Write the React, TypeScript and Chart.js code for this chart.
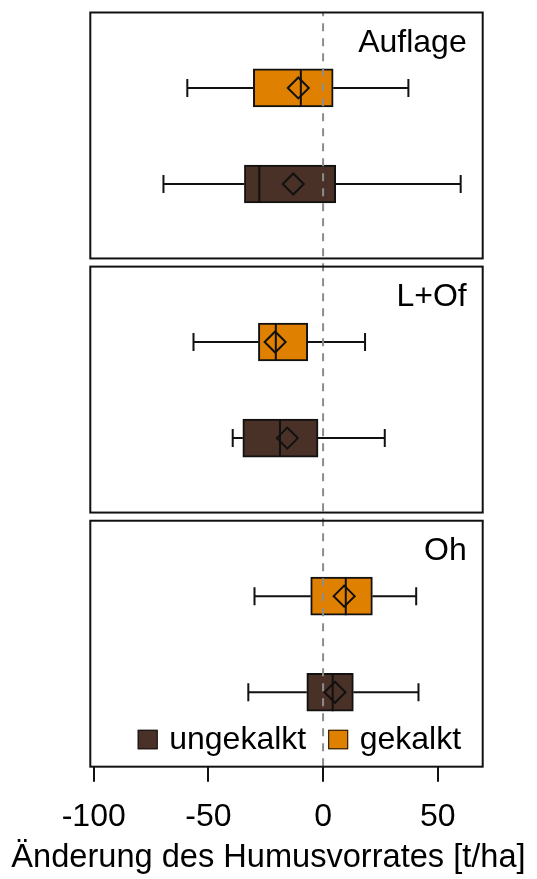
import React, { useEffect, useRef } from 'react';
import { Chart, registerables } from 'chart.js';

Chart.register(...registerables);

// ---------- data ----------
const PANELS = ['Auflage', 'L+Of', 'Oh'];
const GROUPS = ['ungekalkt', 'gekalkt'];
const X_TICKS = [-100, -50, 0, 50];
const X_TITLE = 'Änderung des Humusvorrates [t/ha]';

const UNGEKALKT_MIN = [-69.6, -39.4, -32.6];
const UNGEKALKT_Q1 = [-34.3, -35.0, -7.1];
const UNGEKALKT_MEDIAN = [-27.8, -18.8, 4.2];
const UNGEKALKT_Q3 = [5.5, -2.2, 13.2];
const UNGEKALKT_MAX = [60.0, 26.9, 41.6];
const UNGEKALKT_MEAN = [-13.0, -15.6, 5.2];

const GEKALKT_MIN = [-59.2, -56.5, -29.9];
const GEKALKT_Q1 = [-30.4, -28.2, -5.4];
const GEKALKT_MEDIAN = [-9.7, -20.6, 9.9];
const GEKALKT_Q3 = [4.4, -6.7, 21.5];
const GEKALKT_MAX = [37.2, 18.3, 40.6];
const GEKALKT_MEAN = [-10.8, -20.9, 9.2];

// ---------- layout / style ----------
const X_MIN = -101.5;
const X_MAX = 69.6;
const PANEL_SPAN = 2.56;
const PANEL_GAP = 0.085;
const GROUP_OFFSET: Record<string, number> = { gekalkt: 0.785, ungekalkt: 1.785 };
const Y_MAX = PANELS.length * PANEL_SPAN + (PANELS.length - 1) * PANEL_GAP;

const FONT = "'Liberation Sans', Arial, Helvetica, sans-serif";
const FONT_SIZE = 32;
const TITLE_SIZE = 32.6;
const COLORS: Record<string, string> = { ungekalkt: '#4A3127', gekalkt: '#E08000' };
const LINE_COLOR = '#111111';
const ZERO_COLOR = '#8c8c8c';
const BOX_THICKNESS = 38;
const CAP_HALF = 9;

const STATS = [
  { group: 'ungekalkt', min: UNGEKALKT_MIN, q1: UNGEKALKT_Q1, median: UNGEKALKT_MEDIAN, q3: UNGEKALKT_Q3, max: UNGEKALKT_MAX, mean: UNGEKALKT_MEAN },
  { group: 'gekalkt', min: GEKALKT_MIN, q1: GEKALKT_Q1, median: GEKALKT_MEDIAN, q3: GEKALKT_Q3, max: GEKALKT_MAX, mean: GEKALKT_MEAN },
];

const panelTop = (k: number) => k * (PANEL_SPAN + PANEL_GAP);
const yPos = (k: number, group: string) => panelTop(k) + GROUP_OFFSET[group];

const extrasPlugin = {
  id: 'boxExtras',
  afterDatasetsDraw(chart: any) {
    const { ctx, scales } = chart;
    const xs = scales.x;
    const ys = scales.y;
    const px = (v: number) => xs.getPixelForValue(v);
    ctx.save();
    ctx.strokeStyle = LINE_COLOR;
    ctx.lineWidth = 2;
    ctx.lineCap = 'butt';
    ctx.setLineDash([]);
    STATS.forEach((s) => {
      PANELS.forEach((_, k) => {
        const yc = ys.getPixelForValue(yPos(k, s.group));
        const half = BOX_THICKNESS / 2;
        ctx.beginPath();
        ctx.moveTo(px(s.min[k]), yc);
        ctx.lineTo(px(s.q1[k]), yc);
        ctx.moveTo(px(s.q3[k]), yc);
        ctx.lineTo(px(s.max[k]), yc);
        ctx.moveTo(px(s.min[k]), yc - CAP_HALF);
        ctx.lineTo(px(s.min[k]), yc + CAP_HALF);
        ctx.moveTo(px(s.max[k]), yc - CAP_HALF);
        ctx.lineTo(px(s.max[k]), yc + CAP_HALF);
        ctx.moveTo(px(s.median[k]), yc - half);
        ctx.lineTo(px(s.median[k]), yc + half);
        ctx.stroke();
      });
    });
    ctx.restore();
  },
  afterDraw(chart: any) {
    const { ctx, chartArea, scales } = chart;
    const xs = scales.x;
    const ys = scales.y;
    ctx.save();
    // zero reference line
    const x0 = xs.getPixelForValue(0);
    ctx.strokeStyle = ZERO_COLOR;
    ctx.lineWidth = 2;
    ctx.setLineDash([8, 7]);
    ctx.lineDashOffset = 4.3;
    ctx.beginPath();
    ctx.moveTo(x0, chartArea.top);
    ctx.lineTo(x0, chartArea.bottom);
    ctx.stroke();
    ctx.setLineDash([]);

    // panel frames + labels
    ctx.strokeStyle = LINE_COLOR;
    ctx.lineWidth = 2;
    ctx.font = `${FONT_SIZE}px ${FONT}`;
    ctx.fillStyle = '#000';
    ctx.textBaseline = 'alphabetic';
    PANELS.forEach((name, k) => {
      const top = ys.getPixelForValue(panelTop(k));
      const bottom = ys.getPixelForValue(panelTop(k) + PANEL_SPAN);
      ctx.strokeRect(chartArea.left, top, chartArea.right - chartArea.left, bottom - top);
      ctx.textAlign = 'right';
      ctx.fillText(name, chartArea.right - 16, top + 39);
    });

    // legend inside last panel
    const lastBottom = ys.getPixelForValue(panelTop(PANELS.length - 1) + PANEL_SPAN);
    const baseline = lastBottom - 17.4;
    let lx = chartArea.left + 47.4;
    ctx.textAlign = 'left';
    GROUPS.forEach((g) => {
      ctx.fillStyle = COLORS[g];
      ctx.fillRect(lx, baseline - 19.5, 20, 19.5);
      ctx.lineWidth = 1;
      ctx.strokeStyle = LINE_COLOR;
      ctx.strokeRect(lx + 0.5, baseline - 19, 19, 18.5);
      ctx.fillStyle = '#000';
      const tx = lx + 31.5;
      ctx.fillText(g, tx, baseline);
      lx = tx + ctx.measureText(g).width + 22;
    });
    ctx.restore();
  },
};

export default function App() {
  const ref = useRef<HTMLCanvasElement>(null);

  useEffect(() => {
    if (!ref.current) return;
    const barSets = STATS.map((s) => ({
      type: 'bar' as const,
      label: s.group,
      data: PANELS.map((_, k) => ({ x: [s.q1[k], s.q3[k]], y: yPos(k, s.group) })),
      backgroundColor: COLORS[s.group],
      borderColor: LINE_COLOR,
      borderWidth: 2,
      borderSkipped: false,
      barThickness: BOX_THICKNESS,
      grouped: false,
      indexAxis: 'y' as const,
      order: 2,
    }));
    const meanSets = STATS.map((s) => ({
      type: 'scatter' as const,
      label: s.group + ' Mittelwert',
      data: PANELS.map((_, k) => ({ x: s.mean[k], y: yPos(k, s.group) })),
      pointStyle: 'rectRot',
      pointRadius: 10.5,
      pointBorderWidth: 2,
      pointBorderColor: LINE_COLOR,
      pointBackgroundColor: 'rgba(0,0,0,0)',
      showLine: false,
      order: 1,
    }));

    const chart = new Chart(ref.current, {
      type: 'bar',
      data: { datasets: [...barSets, ...meanSets] as any },
      options: {
        indexAxis: 'y',
        responsive: false,
        animation: false,
        devicePixelRatio: 1,
        layout: { padding: { left: 0, right: 0, top: 11, bottom: 0 } },
        font: { family: FONT },
        scales: {
          x: {
            type: 'linear',
            position: 'bottom',
            min: X_MIN,
            max: X_MAX,
            offset: false,
            afterBuildTicks: (axis: any) => {
              axis.ticks = X_TICKS.map((v) => ({ value: v }));
            },
            ticks: {
              autoSkip: false,
              maxRotation: 0,
              color: '#000',
              padding: 16,
              font: { size: FONT_SIZE, family: FONT },
              callback: (v: any) => String(v),
            },
            grid: {
              display: true,
              offset: false,
              drawOnChartArea: false,
              drawTicks: true,
              tickLength: 15,
              color: LINE_COLOR,
              lineWidth: 2,
            },
            border: { display: false },
          },
          y: {
            type: 'linear',
            position: 'left',
            min: 0,
            max: Y_MAX,
            reverse: true,
            offset: false,
            display: true,
            ticks: { display: false },
            grid: { display: false, offset: false },
            border: { display: false },
            afterFit: (axis: any) => {
              axis.width = 90.3;
            },
          },
          yRight: {
            type: 'linear',
            position: 'right',
            display: true,
            offset: false,
            ticks: { display: false },
            grid: { display: false },
            border: { display: false },
            afterFit: (axis: any) => {
              axis.width = 54.3;
            },
          },
        } as any,
        plugins: {
          legend: { display: false },
          tooltip: { enabled: false },
          title: {
            display: true,
            position: 'bottom',
            text: X_TITLE,
            color: '#000',
            font: { size: TITLE_SIZE, family: FONT, weight: 'normal', lineHeight: 1.2 },
            padding: { top: -13.5, bottom: 1.3 },
          },
        },
      },
      plugins: [extrasPlugin],
    });
    return () => chart.destroy();
  }, []);

  return (
    <div style={{ position: 'fixed', left: 0, top: 0, width: 537, height: 879, background: '#fff' }}>
      <canvas ref={ref} width={537} height={879} style={{ display: 'block', width: 537, height: 879 }} />
    </div>
  );
}
